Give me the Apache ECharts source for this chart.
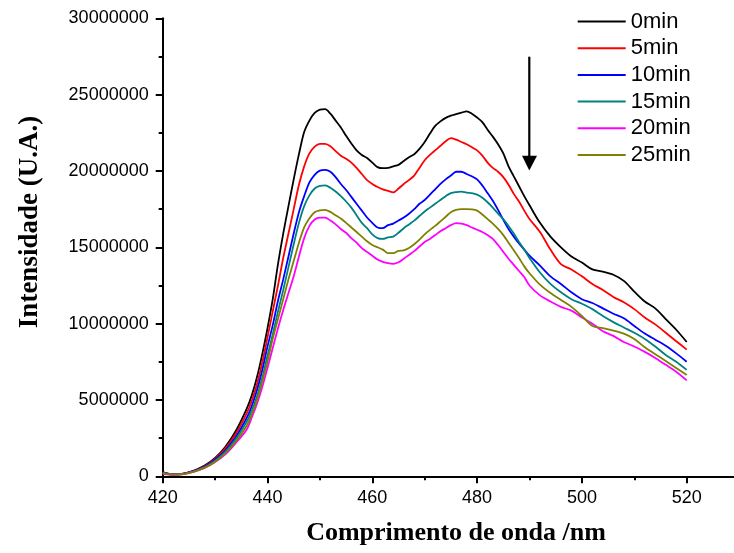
<!DOCTYPE html>
<html>
<head>
<meta charset="utf-8">
<script src="https://cdn.jsdelivr.net/npm/echarts@6/dist/echarts.min.js"></script>
<style>
html,body{margin:0;padding:0;background:#fff;}
#chart{width:734px;height:553px;}
</style>
</head>
<body>
<div id="chart"></div>
<script>
// Wavelength (nm)
const wavelengths = [420,422,424,426,428,430,432,434,
  436,437,438,439,440,441,442,443,444,445,446,447,448,449,
  450,451,452,453,454,455,456,457,458,459,460,461,462,463,464,
  465,466,467,468,469,470,471,472,473,474,475,476,477,478,479,
  480,481,482,483,484,485,486,487,488,489,490,
  492,494,496,498,500,502,504,506,508,510,512,514,516,518,520];

const seriesNames = ['0min','5min','10min','15min','20min','25min'];

const int0 = [0.28e6,0.12e6,0.18e6,0.38e6,0.7e6,1.2e6,1.95e6,3.0e6,
  4.4e6,5.3e6,6.5e6,8.0e6,9.7e6,11.6e6,13.9e6,15.9e6,17.7e6,19.45e6,21.1e6,22.55e6,23.3e6,23.8e6,
  24.02e6,24.05e6,23.75e6,23.3e6,22.85e6,22.3e6,21.8e6,21.35e6,21.05e6,20.85e6,20.55e6,20.25e6,20.18e6,20.2e6,20.3e6,
  20.4e6,20.65e6,20.9e6,21.1e6,21.45e6,21.9e6,22.45e6,22.95e6,23.25e6,23.48e6,23.62e6,23.72e6,23.82e6,23.9e6,23.75e6,
  23.5e6,23.2e6,22.7e6,22.25e6,21.75e6,21.15e6,20.3e6,19.65e6,19.0e6,18.35e6,17.75e6,
  16.6e6,15.7e6,15.0e6,14.4e6,14.0e6,13.55e6,13.4e6,13.2e6,12.8e6,12.1e6,11.45e6,11.0e6,10.3e6,9.6e6,8.8e6];

const int5 = [0.26e6,0.12e6,0.18e6,0.36e6,0.66e6,1.14e6,1.85e6,2.8e6,
  4.1e6,4.95e6,6.05e6,7.45e6,9.1e6,10.8e6,12.5e6,14.3e6,15.9e6,17.5e6,19.1e6,20.3e6,21.15e6,21.6e6,
  21.78e6,21.78e6,21.62e6,21.3e6,21.0e6,20.8e6,20.55e6,20.2e6,19.8e6,19.4e6,19.15e6,18.95e6,18.8e6,18.7e6,18.6e6,
  18.85e6,19.15e6,19.4e6,19.7e6,20.2e6,20.7e6,21.05e6,21.35e6,21.65e6,21.95e6,22.15e6,22.05e6,21.9e6,21.75e6,21.55e6,
  21.35e6,21.0e6,20.55e6,20.2e6,19.95e6,19.6e6,19.1e6,18.5e6,18.0e6,17.4e6,16.85e6,
  16.0e6,14.85e6,13.9e6,13.55e6,13.1e6,12.6e6,12.2e6,11.75e6,11.4e6,10.95e6,10.4e6,9.95e6,9.4e6,8.85e6,8.3e6];

const int10 = [0.24e6,0.12e6,0.17e6,0.35e6,0.62e6,1.08e6,1.72e6,2.6e6,
  3.8e6,4.6e6,5.65e6,6.95e6,8.5e6,9.9e6,11.5e6,12.9e6,14.4e6,15.9e6,17.3e6,18.35e6,19.25e6,19.75e6,
  20.02e6,20.07e6,19.95e6,19.6e6,19.15e6,18.75e6,18.3e6,17.85e6,17.4e6,16.95e6,16.6e6,16.3e6,16.25e6,16.45e6,16.55e6,
  16.75e6,16.95e6,17.2e6,17.5e6,17.85e6,18.1e6,18.45e6,18.8e6,19.15e6,19.45e6,19.7e6,19.95e6,19.95e6,19.8e6,19.65e6,
  19.45e6,19.05e6,18.55e6,18.05e6,17.45e6,16.8e6,16.2e6,15.7e6,15.25e6,14.85e6,14.45e6,
  13.8e6,13.1e6,12.6e6,12.05e6,11.6e6,11.35e6,11.0e6,10.65e6,10.35e6,9.85e6,9.35e6,8.95e6,8.55e6,8.05e6,7.5e6];

const int15 = [0.22e6,0.12e6,0.16e6,0.33e6,0.59e6,1.02e6,1.62e6,2.45e6,
  3.55e6,4.3e6,5.25e6,6.45e6,7.9e6,9.3e6,10.8e6,12.2e6,13.7e6,15.2e6,16.6e6,17.7e6,18.4e6,18.85e6,
  19.02e6,19.05e6,18.9e6,18.65e6,18.35e6,18.0e6,17.6e6,17.1e6,16.6e6,16.25e6,15.85e6,15.6e6,15.55e6,15.65e6,15.7e6,
  15.95e6,16.25e6,16.5e6,16.75e6,17.05e6,17.35e6,17.6e6,17.85e6,18.1e6,18.35e6,18.55e6,18.62e6,18.65e6,18.58e6,18.55e6,
  18.45e6,18.25e6,17.95e6,17.6e6,17.2e6,16.85e6,16.4e6,15.9e6,15.35e6,14.85e6,14.3e6,
  13.35e6,12.6e6,12.05e6,11.6e6,11.3e6,10.95e6,10.5e6,10.1e6,9.75e6,9.4e6,9.0e6,8.5e6,7.95e6,7.5e6,6.97e6];

const int20 = [0.16e6,0.1e6,0.14e6,0.3e6,0.54e6,0.93e6,1.45e6,2.2e6,
  3.05e6,3.85e6,4.75e6,5.85e6,7.1e6,8.4e6,9.7e6,10.9e6,12.0e6,13.1e6,14.4e6,15.6e6,16.4e6,16.82e6,
  16.95e6,16.95e6,16.75e6,16.5e6,16.2e6,15.95e6,15.6e6,15.3e6,14.95e6,14.7e6,14.45e6,14.2e6,14.05e6,13.96e6,13.92e6,
  14.02e6,14.25e6,14.5e6,14.75e6,15.05e6,15.35e6,15.55e6,15.8e6,16.05e6,16.25e6,16.45e6,16.58e6,16.55e6,16.45e6,16.3e6,
  16.15e6,16.0e6,15.8e6,15.55e6,15.15e6,14.7e6,14.25e6,13.85e6,13.45e6,13.05e6,12.5e6,
  11.85e6,11.45e6,11.1e6,10.85e6,10.4e6,10.0e6,9.5e6,9.2e6,8.8e6,8.5e6,8.15e6,7.75e6,7.3e6,6.85e6,6.28e6];

const int25 = [0.2e6,0.12e6,0.15e6,0.31e6,0.56e6,0.96e6,1.52e6,2.3e6,
  3.3e6,4.05e6,5.0e6,6.2e6,7.5e6,9.0e6,10.3e6,11.6e6,12.9e6,14.1e6,15.3e6,16.3e6,16.9e6,17.3e6,
  17.42e6,17.45e6,17.32e6,17.1e6,16.88e6,16.6e6,16.3e6,16.0e6,15.7e6,15.4e6,15.15e6,15.0e6,14.85e6,14.62e6,14.62e6,
  14.76e6,14.8e6,14.95e6,15.2e6,15.5e6,15.85e6,16.14e6,16.4e6,16.7e6,17.0e6,17.3e6,17.45e6,17.5e6,17.5e6,17.48e6,
  17.4e6,17.15e6,16.85e6,16.55e6,16.2e6,15.8e6,15.3e6,14.8e6,14.3e6,13.75e6,13.3e6,
  12.55e6,12.0e6,11.55e6,11.1e6,10.5e6,9.85e6,9.7e6,9.55e6,9.35e6,9.0e6,8.45e6,8.0e6,7.55e6,7.1e6,6.64e6];

const seriesValues = [int0, int5, int10, int15, int20, int25];
const seriesColors = ['#000000','#ff0000','#0000ff','#008080','#ff00ff','#808000'];

const xTitle = 'Comprimento de onda /nm';
const yTitle = 'Intensidade (U.A.)';

const chart = echarts.init(document.getElementById('chart'), null, {renderer:'canvas'});

const sansFont = "'Liberation Sans', Arial, sans-serif";
const serifFont = "'Liberation Serif', 'Times New Roman', serif";

const series = seriesNames.map((name, k) => ({
  name: name,
  type: 'line',
  symbol: 'none',
  showSymbol: false,
  smooth: 0.3,
  animation: false,
  lineStyle: {color: seriesColors[k], width: 1.8},
  itemStyle: {color: seriesColors[k]},
  data: wavelengths.map((w, i) => [w, seriesValues[k][i]])
}));

const option = {
  backgroundColor: '#ffffff',
  animation: false,
  grid: {left: 162.7, top: 18.3, width: 628.8, height: 458, containLabel: false, outerBoundsMode: 'none'},
  xAxis: {
    type: 'value', min: 420, max: 540, interval: 20,
    axisLine: {onZero: false, lineStyle: {color: '#000', width: 2}},
    axisTick: {show: true, inside: false, length: 7, lineStyle: {color: '#000', width: 2}},
    minorTick: {show: true, splitNumber: 2, length: 4, lineStyle: {color: '#000', width: 2}},
    splitLine: {show: false},
    axisLabel: {color: '#000', fontSize: 18, fontFamily: sansFont, margin: 13, showMaxLabel: false,
      formatter: v => String(v)}
  },
  yAxis: {
    type: 'value', min: 0, max: 30000000, interval: 5000000,
    axisLine: {onZero: false, lineStyle: {color: '#000', width: 2}},
    axisTick: {show: true, inside: false, length: 7, lineStyle: {color: '#000', width: 2}},
    minorTick: {show: true, splitNumber: 2, length: 4, lineStyle: {color: '#000', width: 2}},
    splitLine: {show: false},
    axisLabel: {color: '#000', fontSize: 18, fontFamily: sansFont, margin: 14,
      formatter: v => String(v)}
  },
  legend: {
    orient: 'vertical',
    left: 577.7, top: 10.5, padding: 0,
    itemWidth: 48, itemHeight: 14, itemGap: 4.7,
    icon: 'path://M0,0 L48,0 L48,2 L0,2 Z',
    textStyle: {color: '#000', fontSize: 22, fontFamily: sansFont},
    data: seriesNames.map((n, k) => ({name: n, itemStyle: {color: seriesColors[k]}}))
  },
  graphic: [
    {type: 'text', x: 456, y: 533, style: {text: xTitle, font: 'bold 26px ' + serifFont, fill: '#000', align: 'center', verticalAlign: 'middle'}},
    {type: 'text', x: 30, y: 222, rotation: Math.PI / 2, style: {text: yTitle, font: 'bold 27px ' + serifFont, fill: '#000', align: 'center', verticalAlign: 'middle'}},
    {type: 'line', shape: {x1: 529.3, y1: 56.7, x2: 529.3, y2: 158}, style: {stroke: '#000', lineWidth: 2.2}},
    {type: 'polygon', shape: {points: [[522, 155.7], [537, 155.7], [529.3, 170.5]]}, style: {fill: '#000'}}
  ],
  series: series
};
chart.setOption(option);
</script>
</body>
</html>
